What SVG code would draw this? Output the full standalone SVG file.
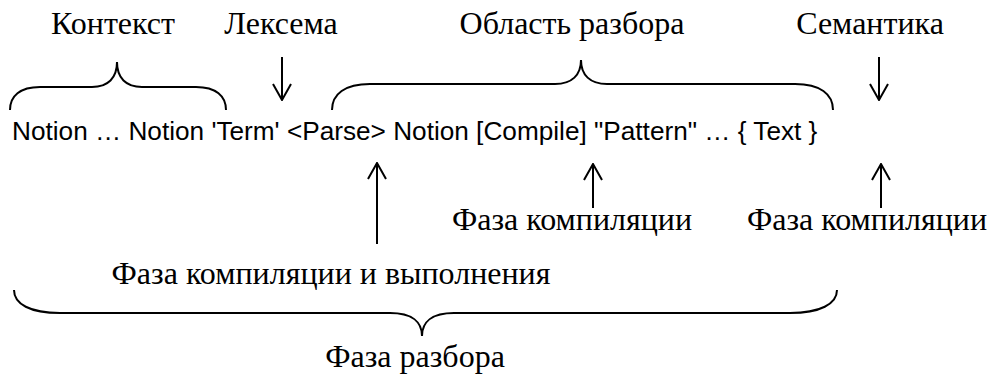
<svg xmlns="http://www.w3.org/2000/svg" width="988" height="378" viewBox="0 0 988 378">
<defs>
<style>
.lbl{font-family:"Liberation Serif","Times New Roman",serif;font-size:32px;fill:#000}
.code{font-family:"Liberation Sans",Arial,sans-serif;font-size:26.2px;fill:#000}
.ln{fill:none;stroke:#000;stroke-width:2}
</style>
<marker id="ah" viewBox="0 0 18 20" refX="17" refY="10" markerWidth="18" markerHeight="20" markerUnits="userSpaceOnUse" orient="auto">
<path d="M1,1 L17,10 L1,19" fill="none" stroke="#000" stroke-width="2"/>
</marker>
</defs>
<rect width="988" height="378" fill="#fff"/>
<g id="code-line"><text class="code" x="12" y="140" xml:space="preserve">Notion … Notion 'Term' &lt;Parse&gt; Notion [Compile] "Pattern" … { Text }</text></g>
<g id="context"><text class="lbl" x="113" y="34" text-anchor="middle">Контекст</text></g>
<g id="lexeme"><text class="lbl" x="281" y="34" text-anchor="middle">Лексема</text></g>
<g id="area"><text class="lbl" x="572" y="34" text-anchor="middle">Область разбора</text></g>
<g id="semantics"><text class="lbl" x="870" y="34" text-anchor="middle">Семантика</text></g>
<g id="compile1"><text class="lbl" x="572" y="230" text-anchor="middle">Фаза компиляции</text></g>
<g id="compile2"><text class="lbl" x="867" y="230" text-anchor="middle">Фаза компиляции</text></g>
<g id="compile-exec"><text class="lbl" x="331" y="284" text-anchor="middle">Фаза компиляции и выполнения</text></g>
<g id="parse-phase"><text class="lbl" x="415" y="367" text-anchor="middle">Фаза разбора</text></g>
<g id="connectors">
<path class="ln" d="M10,110 C10,96 20,87 40,87 L92,87 C108,87 117,78 117,62 C117,78 126,87 142,87 L196,87 C216,87 226,96 226,110"/>
<path class="ln" d="M332,110 C332,94 345,84 370,84 L555,84 C572,84 581,75 581,60 C581,75 590,84 607,84 L795,84 C820,84 833,94 833,110"/>
<path class="ln" d="M14,290 C14,304 30,313 60,313 L390,313 C412,313 422,322 422,336 C422,322 432,313 454,313 L790,313 C820,313 837,304 837,290"/>
<line class="ln" x1="282" y1="57" x2="282" y2="100" marker-end="url(#ah)"/>
<line class="ln" x1="879" y1="57" x2="879" y2="100" marker-end="url(#ah)"/>
<line class="ln" x1="377" y1="244" x2="377" y2="163" marker-end="url(#ah)"/>
<line class="ln" x1="593" y1="208" x2="593" y2="164" marker-end="url(#ah)"/>
<line class="ln" x1="881" y1="208" x2="881" y2="164" marker-end="url(#ah)"/>
</g>
</svg>
